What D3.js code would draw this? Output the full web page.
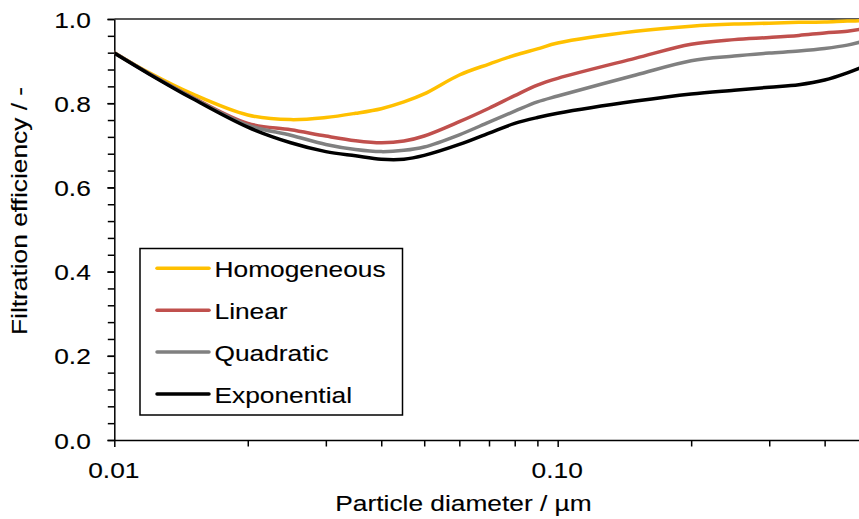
<!DOCTYPE html>
<html>
<head>
<meta charset="utf-8">
<script src="https://cdn.jsdelivr.net/npm/d3@7"></script>
<style>
  html, body { margin: 0; padding: 0; background: #fff; overflow: hidden; }
  svg { display: block; }
  text { font-family: "Liberation Sans", Arial, sans-serif; fill: #000; stroke: #000; stroke-width: 0.12px; }
</style>
</head>
<body>
<svg id="chart" width="859" height="519"></svg>
<script>
// ---- data ----
const diameters   = [0.01, 0.012, 0.015, 0.02, 0.025, 0.03, 0.035, 0.04, 0.045, 0.05, 0.06, 0.07, 0.08, 0.09, 0.1, 0.15, 0.2, 0.25, 0.3, 0.35, 0.4, 0.45, 0.5];
const homogeneous = [0.920, 0.872, 0.822, 0.772, 0.761, 0.766, 0.776, 0.787, 0.803, 0.822, 0.867, 0.893, 0.914, 0.929, 0.943, 0.971, 0.983, 0.988, 0.990, 0.992, 0.993, 0.995, 0.996];
const linear      = [0.920, 0.870, 0.814, 0.752, 0.737, 0.722, 0.711, 0.706, 0.710, 0.722, 0.756, 0.788, 0.818, 0.843, 0.859, 0.907, 0.940, 0.951, 0.956, 0.961, 0.967, 0.971, 0.979];
const quadratic   = [0.920, 0.870, 0.813, 0.748, 0.724, 0.702, 0.690, 0.685, 0.688, 0.696, 0.725, 0.755, 0.781, 0.803, 0.817, 0.867, 0.901, 0.912, 0.919, 0.924, 0.930, 0.938, 0.950];
const exponential = [0.919, 0.869, 0.811, 0.743, 0.706, 0.685, 0.675, 0.667, 0.667, 0.676, 0.702, 0.729, 0.752, 0.766, 0.776, 0.805, 0.822, 0.831, 0.838, 0.844, 0.855, 0.872, 0.891];
const seriesNames  = ["Homogeneous", "Linear", "Quadratic", "Exponential"];
const seriesColors = ["#FFC000", "#C0504D", "#808080", "#000000"];
const xMajorTicks  = [0.01, 0.1];
const xMajorLabels = ["0.01", "0.10"];
const xMinorTicks  = [0.02, 0.03, 0.04, 0.05, 0.06, 0.07, 0.08, 0.09, 0.2, 0.3, 0.4, 0.5];
const yMajorTicks  = [0, 0.2, 0.4, 0.6, 0.8, 1.0];
const yMinorTicks  = d3.range(0, 1.0001, 0.04);
const xTitle = "Particle diameter / µm";
const yTitle = "Filtration efficiency / -";

const seriesValues = [homogeneous, linear, quadratic, exponential];

// ---- layout ----
const svg = d3.select("#chart");
const plotLeft = 114.3, plotRight = 867.6, plotTop = 19, plotBottom = 440;
const FS = 22.5, SX = 1.17;

const x = d3.scaleLog().domain([0.01, 0.5]).range([plotLeft, plotRight]);
const y = d3.scaleLinear().domain([0, 1]).range([plotBottom, plotTop]);

// top border
svg.append("line")
  .attr("x1", plotLeft).attr("x2", 859).attr("y1", plotTop).attr("y2", plotTop)
  .attr("stroke", "#222").attr("stroke-width", 1.5);

// y axis
const yMinorAxis = d3.axisLeft(y).tickValues(yMinorTicks).tickSize(6.5).tickFormat("");
svg.append("g").attr("transform", `translate(${plotLeft},0)`).call(yMinorAxis)
  .call(g => g.select(".domain").remove())
  .call(g => g.selectAll("line").attr("stroke", "#000").attr("stroke-width", 1.5));
const yAxis = d3.axisLeft(y).tickValues(yMajorTicks).tickSize(7).tickFormat(d3.format(".1f")).tickSizeOuter(0);
svg.append("g").attr("transform", `translate(${plotLeft},0)`).call(yAxis)
  .call(g => g.select(".domain").attr("stroke", "#000").attr("stroke-width", 1.5))
  .call(g => g.selectAll("line").attr("stroke", "#000").attr("stroke-width", 1.5))
  .call(g => g.selectAll("text")
     .attr("font-size", FS).attr("x", 0).attr("dy", null).attr("y", 0)
     .attr("text-anchor", "end")
     .attr("transform", `translate(-23.5,8) scale(${SX},1)`));

// x axis
const xMinorAxis = d3.axisBottom(x).tickValues(xMinorTicks).tickSize(6.5).tickFormat("");
svg.append("g").attr("transform", `translate(0,${plotBottom})`).call(xMinorAxis)
  .call(g => g.select(".domain").remove())
  .call(g => g.selectAll("line").attr("stroke", "#000").attr("stroke-width", 1.5));
const xAxis = d3.axisBottom(x).tickValues(xMajorTicks).tickSize(7).tickSizeOuter(0)
  .tickFormat((d, i) => xMajorLabels[i]);
svg.append("g").attr("transform", `translate(0,${plotBottom})`).call(xAxis)
  .call(g => g.select(".domain").attr("stroke", "#000").attr("stroke-width", 1.5))
  .call(g => g.selectAll("line").attr("stroke", "#000").attr("stroke-width", 1.5))
  .call(g => g.selectAll("text")
     .attr("font-size", FS).attr("y", 0).attr("dy", null)
     .attr("text-anchor", "middle")
     .attr("transform", `translate(-1,38) scale(${SX},1)`));

// series
const line = d3.line()
  .x((d, i) => x(diameters[i]))
  .y(d => y(d))
  .curve(d3.curveCatmullRom.alpha(0.5));

svg.append("defs").append("clipPath").attr("id", "plotclip")
  .append("rect").attr("x", plotLeft).attr("y", 0).attr("width", 859 - plotLeft).attr("height", plotBottom);

const gLines = svg.append("g").attr("clip-path", "url(#plotclip)");
seriesValues.forEach((vals, k) => {
  gLines.append("path")
    .datum(vals)
    .attr("d", line)
    .attr("fill", "none")
    .attr("stroke", seriesColors[k])
    .attr("stroke-width", 3.5)
    .attr("stroke-linejoin", "round")
    .attr("stroke-linecap", "round");
});

// axis titles
svg.append("text")
  .attr("font-size", FS).attr("text-anchor", "middle")
  .attr("transform", `translate(463.5,511) scale(${SX},1)`)
  .text(xTitle);
svg.append("text")
  .attr("font-size", FS).attr("text-anchor", "middle")
  .attr("transform", `translate(27,211) rotate(-90) scale(${SX},1)`)
  .text(yTitle);

// legend
const legend = svg.append("g");
legend.append("rect")
  .attr("x", 140).attr("y", 248.5).attr("width", 262.5).attr("height", 166.5)
  .attr("fill", "#fff").attr("stroke", "#000").attr("stroke-width", 1.5);
const rowScale = d3.scalePoint().domain(seriesNames).range([268.3, 394]);
seriesNames.forEach((name, k) => {
  const ry = rowScale(name);
  legend.append("line")
    .attr("x1", 157).attr("x2", 209).attr("y1", ry).attr("y2", ry)
    .attr("stroke", seriesColors[k]).attr("stroke-width", 3.5).attr("stroke-linecap", "round");
  legend.append("text")
    .attr("font-size", FS)
    .attr("transform", `translate(214.5,${ry + 8.5}) scale(${SX},1)`)
    .text(name);
});
</script>
</body>
</html>
